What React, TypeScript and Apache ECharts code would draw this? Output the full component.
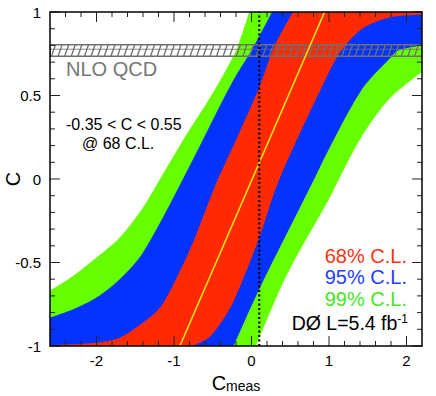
import React, { useEffect, useRef } from 'react';
import * as echarts from 'echarts';

// Axis ranges and ticks
const xRange = [-2.6, 2.2];
const yRange = [-1, 1];
const xMajorTicks = [-2, -1, 0, 1, 2];
const xMinorTicks = [-2.4, -2.2, -1.8, -1.6, -1.4, -1.2, -0.8, -0.6, -0.4, -0.2, 0.2, 0.4, 0.6, 0.8, 1.2, 1.4, 1.6, 1.8];
const yMajorTicks = [-1, -0.5, 0, 0.5, 1];
const yMinorTicks = [-0.9, -0.8, -0.7, -0.6, -0.4, -0.3, -0.2, -0.1, 0.1, 0.2, 0.3, 0.4, 0.6, 0.7, 0.8, 0.9];

// Neyman belt boundaries: [C_meas, C]
// upper-left edges of the belts
const cl99Left = [[-2.6, -0.67], [-2.3, -0.58], [-2.0, -0.47], [-1.7, -0.35], [-1.4, -0.17], [-1.18, 0], [-0.86, 0.25], [-0.52, 0.5], [-0.2, 0.77], [-0.03, 1.0]];
const cl95Left = [[-2.6, -0.83], [-2.3, -0.78], [-2.0, -0.71], [-1.7, -0.6], [-1.4, -0.44], [-0.885, 0], [-0.34, 0.5], [-0.2, 0.62], [0.0, 0.77], [0.265, 1.0]];
const cl68Left = [[-2.6, -0.994], [-2.0, -0.98], [-1.7, -0.95], [-1.4, -0.86], [-1.18, -0.77], [-0.975, -0.6], [-0.756, -0.38], [-0.537, -0.12], [-0.433, 0], [-0.2, 0.234], [0.1, 0.55], [0.3, 0.8], [0.536, 1.0]];
// lower-right edges of the belts
const cl68Right = [[-0.775, -1], [-0.55, -0.95], [-0.35, -0.83], [-0.2, -0.7], [0.1, -0.35], [0.36, 0], [1.0, 0.64], [1.16, 0.77], [1.43, 0.9], [1.8, 0.97], [2.2, 0.984]];
const cl95Right = [[-0.23, -1], [0.1, -0.66], [0.81, 0], [1.0, 0.18], [1.43, 0.54], [1.78, 0.72], [1.89, 0.77], [2.2, 0.8]];
const cl99Right = [[0.06, -1], [0.45, -0.58], [1.0, -0.12], [1.13, 0], [1.43, 0.26], [1.78, 0.48], [2.2, 0.64]];

// Central (most probable) line, measured value, NLO QCD prediction band
const centralLine = [[-0.924, -1], [0.943, 1]];
const measuredCmeas = 0.1;
const nloQcdBand = [0.735, 0.777, 0.804]; // low, central, high

// Text
const resultLines = ['-0.35 < C < 0.55', '@ 68 C.L.'];
const legendLabels = ['68% C.L.', '95% C.L.', '99% C.L.'];

const FONT = "'Liberation Sans', Arial, Helvetica, sans-serif";
const RED = '#ff2a00';
const BLUE = '#0433ff';
const GREEN = '#66ff00';
const TICK = '#222';

function edgeSeries(data: number[][], color: string, origin: 'start' | 'end') {
  return {
    type: 'line',
    data,
    smooth: 0.3,
    symbol: 'none',
    silent: true,
    lineStyle: { width: 0, opacity: 0 },
    areaStyle: { color, opacity: 1, origin },
    z: 2,
  };
}

export default function App() {
  const ref = useRef<HTMLDivElement>(null);
  useEffect(() => {
    if (!ref.current) return;
    const chart = echarts.init(ref.current, null, { renderer: 'svg' });
    const frame = { show: true, onZero: false, lineStyle: { color: '#000', width: 1.5 } };
    const option: any = {
      animation: false,
      backgroundColor: '#ffffff',
      grid: { left: 50, top: 12, right: 14, bottom: 50, show: true, backgroundColor: RED, borderWidth: 0, outerBoundsMode: 'none' },
      xAxis: [
        {
          type: 'value', min: xRange[0], max: xRange[1], position: 'bottom',
          axisLine: frame,
          axisTick: { show: false },
          axisLabel: { show: true, customValues: xMajorTicks, margin: 7, fontSize: 15, color: '#000', fontFamily: FONT },
          splitLine: { show: false },
          name: '{c|C}{m|meas}', nameLocation: 'middle', nameGap: 21,
          nameTextStyle: {
            color: '#000',
            rich: {
              c: { fontSize: 20, fontFamily: FONT, color: '#000', lineHeight: 24, verticalAlign: 'bottom' },
              m: { fontSize: 14, fontFamily: FONT, color: '#000', lineHeight: 10, verticalAlign: 'bottom' },
            },
          },
          z: 10,
        },
        {
          type: 'value', min: xRange[0], max: xRange[1], position: 'top',
          axisLine: frame, axisTick: { show: false }, axisLabel: { show: false }, splitLine: { show: false }, z: 10,
        },
      ],
      yAxis: [
        {
          type: 'value', min: yRange[0], max: yRange[1], interval: 0.5, position: 'left',
          axisLine: frame,
          axisTick: { show: false },
          axisLabel: { show: true, margin: 9, fontSize: 15, color: '#000', fontFamily: FONT },
          splitLine: { show: false },
          z: 10,
        },
        {
          type: 'value', min: yRange[0], max: yRange[1], interval: 0.5, position: 'right',
          axisLine: frame, axisTick: { show: false }, axisLabel: { show: false }, splitLine: { show: false }, z: 10,
        },
      ],
      series: [
        // upper-left side: fill above each edge
        edgeSeries(cl68Left, BLUE, 'end'),
        edgeSeries(cl95Left, GREEN, 'end'),
        edgeSeries(cl99Left, '#ffffff', 'end'),
        // lower-right side: fill below each edge
        edgeSeries(cl68Right, BLUE, 'start'),
        edgeSeries(cl95Right, GREEN, 'start'),
        edgeSeries(cl99Right, '#ffffff', 'start'),
        {
          type: 'custom',
          coordinateSystem: 'cartesian2d',
          silent: true,
          clip: true,
          z: 5,
          data: [[xRange[0], xRange[1], nloQcdBand[0], nloQcdBand[1], nloQcdBand[2]]],
          renderItem: (params: any, api: any) => {
            const lowLeft = api.coord([api.value(0), api.value(2)]);
            const highRight = api.coord([api.value(1), api.value(4)]);
            const midY = api.coord([api.value(0), api.value(3)])[1];
            const left = lowLeft[0];
            const right = highRight[0];
            const bottom = lowLeft[1];
            const top = highRight[1];
            const stroke = '#6f6f6f';
            const children: any[] = [];
            for (let x = left + 1.5; x + 4 <= right; x += 6.6) {
              children.push({ type: 'line', shape: { x1: x, y1: bottom, x2: x + 4, y2: top }, style: { stroke, lineWidth: 1.3 } });
            }
            children.push({ type: 'line', shape: { x1: left, y1: midY, x2: right, y2: midY }, style: { stroke, lineWidth: 0.8 } });
            children.push({ type: 'rect', shape: { x: left, y: top, width: right - left, height: bottom - top }, style: { fill: 'none', stroke, lineWidth: 1.6 } });
            return { type: 'group', children };
          },
        },
        {
          type: 'line', data: centralLine, symbol: 'none', silent: true,
          lineStyle: { color: '#ffee00', width: 1.5 }, z: 6,
        },
        {
          type: 'line', data: [[measuredCmeas, yRange[0]], [measuredCmeas, yRange[1]]], symbol: 'none', silent: true,
          lineStyle: { color: '#000', width: 2.2, type: [2, 2.5] }, z: 7,
        },
        // x-axis ticks (bottom and top, pointing inward)
        {
          type: 'custom', coordinateSystem: 'cartesian2d', silent: true, clip: false, z: 10,
          data: [...xMajorTicks.map((v) => [v, 1]), ...xMinorTicks.map((v) => [v, 0])],
          renderItem: (params: any, api: any) => {
            const v = api.value(0);
            const len = api.value(1) ? 10 : 5;
            const b = api.coord([v, yRange[0]]);
            const t = api.coord([v, yRange[1]]);
            const style = { stroke: TICK, lineWidth: 1 };
            return {
              type: 'group',
              children: [
                { type: 'line', shape: { x1: b[0], y1: b[1], x2: b[0], y2: b[1] - len }, style },
                { type: 'line', shape: { x1: t[0], y1: t[1], x2: t[0], y2: t[1] + len }, style },
              ],
            };
          },
        },
        // y-axis ticks (left and right, pointing inward)
        {
          type: 'custom', coordinateSystem: 'cartesian2d', silent: true, clip: false, z: 10,
          data: [...yMajorTicks.map((v) => [v, 1]), ...yMinorTicks.map((v) => [v, 0])],
          renderItem: (params: any, api: any) => {
            const v = api.value(0);
            const len = api.value(1) ? 10 : 5;
            const l = api.coord([xRange[0], v]);
            const r = api.coord([xRange[1], v]);
            const style = { stroke: TICK, lineWidth: 1 };
            return {
              type: 'group',
              children: [
                { type: 'line', shape: { x1: l[0], y1: l[1], x2: l[0] + len, y2: l[1] }, style },
                { type: 'line', shape: { x1: r[0], y1: r[1], x2: r[0] - len, y2: r[1] }, style },
              ],
            };
          },
        },
      ],
      graphic: [
        { type: 'text', x: 13, y: 179, rotation: Math.PI / 2, z: 20, style: { text: 'C', fill: '#000', fontSize: 20, fontFamily: FONT, align: 'center', verticalAlign: 'middle' } },
        { type: 'text', x: 66, y: 69, z: 20, style: { text: 'NLO QCD', fill: '#777', fontSize: 20, fontFamily: FONT, verticalAlign: 'middle' } },
        { type: 'text', x: 66, y: 124, z: 20, style: { text: resultLines[0], fill: '#000', fontSize: 16, fontFamily: FONT, verticalAlign: 'middle' } },
        { type: 'text', x: 82, y: 143.5, z: 20, style: { text: resultLines[1], fill: '#000', fontSize: 16, fontFamily: FONT, verticalAlign: 'middle' } },
        { type: 'text', x: 407, y: 255.5, z: 20, style: { text: legendLabels[0], fill: '#ff3314', fontSize: 20, fontFamily: FONT, align: 'right', verticalAlign: 'middle' } },
        { type: 'text', x: 407, y: 277, z: 20, style: { text: legendLabels[1], fill: '#1f3dff', fontSize: 20, fontFamily: FONT, align: 'right', verticalAlign: 'middle' } },
        { type: 'text', x: 407, y: 299.3, z: 20, style: { text: legendLabels[2], fill: '#44e61f', fontSize: 20, fontFamily: FONT, align: 'right', verticalAlign: 'middle' } },
        {
          type: 'text', x: 408, y: 323, z: 20,
          style: {
            text: '{t|DØ L=5.4 fb}{s|-1}',
            align: 'right', verticalAlign: 'middle',
            rich: {
              t: { fontSize: 19.5, fontFamily: FONT, fill: '#000', verticalAlign: 'bottom' },
              s: { fontSize: 12, fontFamily: FONT, fill: '#000', verticalAlign: 'top' },
            },
          },
        },
      ],
    };
    chart.setOption(option);
    return () => chart.dispose();
  }, []);
  return <div ref={ref} style={{ position: 'absolute', left: 0, top: 0, width: 436, height: 396 }} />;
}
